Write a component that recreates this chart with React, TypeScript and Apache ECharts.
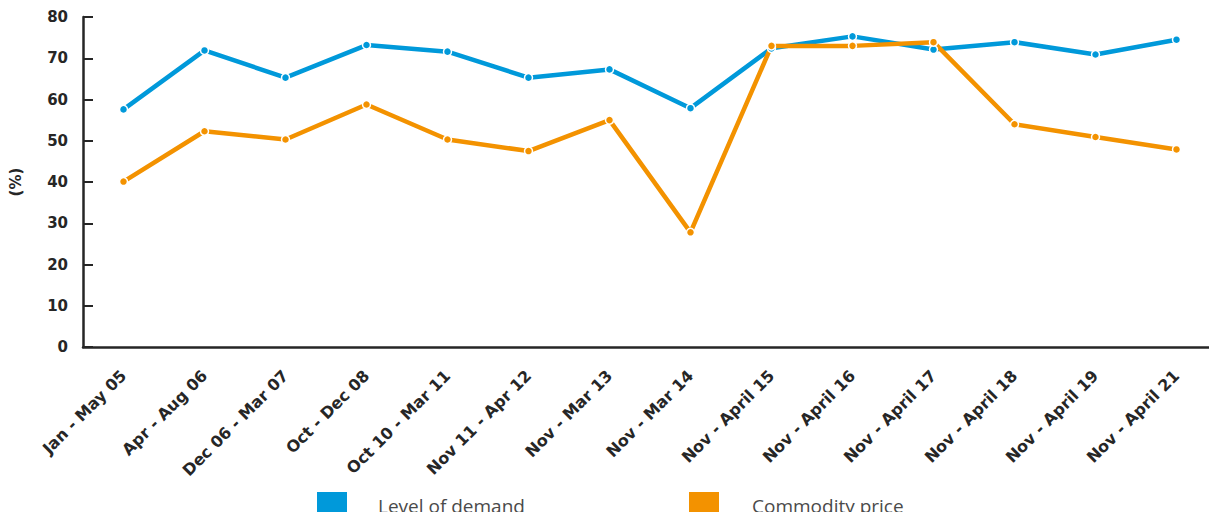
import React, { useEffect, useRef } from "react";
import * as echarts from "echarts";

const categories = [
  "Jan - May 05",
  "Apr - Aug 06",
  "Dec 06 - Mar 07",
  "Oct - Dec 08",
  "Oct 10 - Mar 11",
  "Nov 11 - Apr 12",
  "Nov - Mar 13",
  "Nov - Mar 14",
  "Nov - April 15",
  "Nov - April 16",
  "Nov - April 17",
  "Nov - April 18",
  "Nov - April 19",
  "Nov - April 21",
];

const levelOfDemand = [57.6, 71.9, 65.3, 73.2, 71.6, 65.3, 67.3, 57.9, 72.4, 75.3, 72.1, 73.9, 70.9, 74.5];
const commodityPrice = [40.1, 52.3, 50.3, 58.8, 50.3, 47.5, 55.0, 27.8, 73.0, 73.0, 73.9, 54.0, 50.9, 47.9];

const yTicks = { min: 0, max: 80, interval: 10 };

const BLUE = "#0099da";
const ORANGE = "#f39200";
const AXIS = "#262626";
const BOLD_FONT = "'DejaVu Sans', sans-serif";
const LIGHT_FONT = "'Open Sans', sans-serif";

export default function App() {
  const ref = useRef<HTMLDivElement>(null);
  useEffect(() => {
    if (!ref.current) return;
    const chart = echarts.init(ref.current, null, { renderer: "svg" });
    const mkSeries = (name: string, data: number[], color: string) => ({
      name,
      type: "line",
      data,
      symbol: "circle",
      symbolSize: 8,
      lineStyle: { color, width: 4.5 },
      itemStyle: { color, borderColor: "#ffffff", borderWidth: 1.5 },
      emphasis: { disabled: true },
    });
    const legendBase = {
      top: 490,
      padding: 0,
      icon: "rect",
      itemWidth: 32,
      itemHeight: 30,
      selectedMode: false,
    };
    chart.setOption({
      animation: false,
      grid: { left: 83, right: 0, top: 17, bottom: 173, containLabel: false },
      legend: [
        {
          ...legendBase,
          data: ["Level of demand"],
          left: 315,
          textStyle: { fontFamily: LIGHT_FONT, fontSize: 19, color: "#4a4a4a", padding: [0, 0, 0, 25] },
        },
        {
          ...legendBase,
          data: ["Commodity price"],
          left: 687,
          textStyle: { fontFamily: LIGHT_FONT, fontSize: 19, color: "#4a4a4a", padding: [0, 0, 0, 27] },
        },
      ],
      xAxis: {
        type: "category",
        data: categories,
        boundaryGap: true,
        axisLine: { lineStyle: { color: AXIS, width: 2.5 } },
        axisTick: { inside: true, length: 5, lineStyle: { color: AXIS, width: 1.5 } },
        axisLabel: {
          rotate: 45,
          interval: 0,
          margin: 26,
          fontFamily: BOLD_FONT,
          fontWeight: "bold",
          fontSize: 16,
          color: AXIS,
        },
      },
      yAxis: {
        type: "value",
        min: yTicks.min,
        max: yTicks.max,
        interval: yTicks.interval,
        name: "(%)",
        nameLocation: "middle",
        nameGap: 60,
        nameRotate: 90,
        nameTextStyle: { fontFamily: BOLD_FONT, fontWeight: "bold", fontSize: 15, color: AXIS },
        axisLine: { show: true, lineStyle: { color: AXIS, width: 2.5 } },
        axisTick: { show: true, inside: true, length: 10, lineStyle: { color: AXIS, width: 2 } },
        splitLine: { show: false },
        axisLabel: {
          margin: 15,
          fontFamily: BOLD_FONT,
          fontWeight: "bold",
          fontSize: 15,
          color: AXIS,
        },
      },
      series: [
        mkSeries("Level of demand", levelOfDemand, BLUE),
        mkSeries("Commodity price", commodityPrice, ORANGE),
      ],
    });
    return () => chart.dispose();
  }, []);
  return <div ref={ref} style={{ width: 1217, height: 520, margin: -8 }} />;
}
